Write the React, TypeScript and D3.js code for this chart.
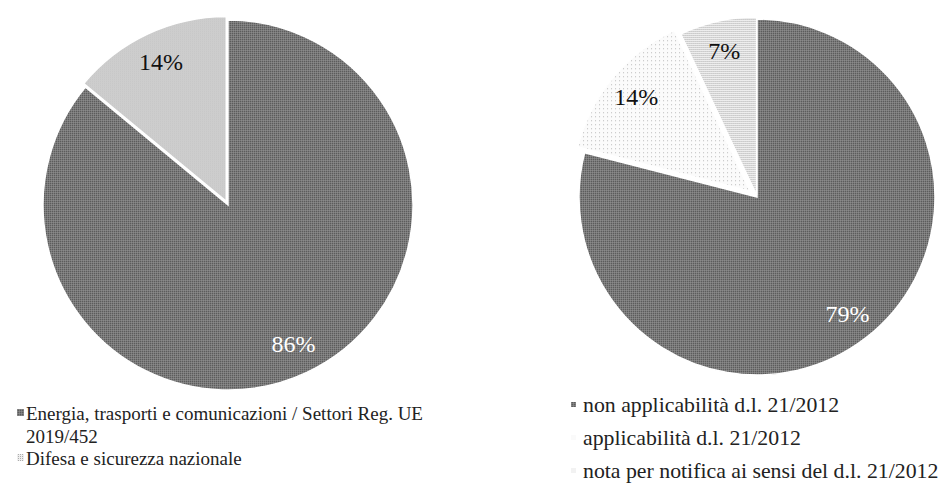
import React from 'react';
import * as d3 from 'd3';

// Left pie
const leftValues = [86, 14];
const leftLegend = [
  ['Energia, trasporti e comunicazioni / Settori Reg. UE', '2019/452'],
  ['Difesa e sicurezza nazionale'],
];
// Right pie
const rightValues = [79, 14, 7];
const rightLegend = [
  ['non applicabilità d.l. 21/2012'],
  ['applicabilità d.l. 21/2012'],
  ['nota per notifica ai sensi del d.l. 21/2012'],
];

const FONT = "'Liberation Serif', 'DejaVu Serif', serif";

type PieSpec = {
  values: number[];
  cx: number;
  cy: number;
  r: number;
  fills: string[];
  labelColors: string[];
  explode: number[];
};

function Pie({ values, cx, cy, r, fills, labelColors, explode }: PieSpec) {
  const total = d3.sum(values);
  const arcs = d3.pie<number>().sort(null).value((d) => d)(values);
  const arc = d3.arc<d3.PieArcDatum<number>>().innerRadius(0).outerRadius(r);
  const lab = d3.arc<d3.PieArcDatum<number>>().innerRadius(r * 0.83).outerRadius(r * 0.83);
  return (
    <g transform={`translate(${cx},${cy})`}>
      {arcs.map((a, i) => {
        const mid = (a.startAngle + a.endAngle) / 2;
        const dx = Math.sin(mid) * explode[i];
        const dy = -Math.cos(mid) * explode[i];
        const [lx, ly] = lab.centroid(a);
        return (
          <g key={i} transform={`translate(${dx},${dy})`}>
            <path d={arc(a) || ''} fill={fills[i]} stroke="#fff" strokeWidth={1.5} />
            <text
              x={lx}
              y={ly}
              textAnchor="middle"
              dominantBaseline="central"
              fontFamily={FONT}
              fontSize={24}
              fill={labelColors[i]}
            >
              {Math.round((values[i] / total) * 100)}%
            </text>
          </g>
        );
      })}
    </g>
  );
}

export default function App() {
  return (
    <svg
      width={945}
      height={488}
      style={{ position: 'absolute', left: 0, top: 0, background: '#fff' }}
    >
      <defs>
        <pattern id="dotsLight" width="4" height="4" patternUnits="userSpaceOnUse">
          <rect width="4" height="4" fill="#fbfbfb" />
          <rect x="1" y="1" width="1" height="1" fill="#b8b8b8" />
        </pattern>
        <pattern id="dotsMid" width="2" height="2" patternUnits="userSpaceOnUse">
          <rect width="2" height="2" fill="#eeeeee" />
          <rect x="0" y="0" width="1" height="1" fill="#acacac" />
        </pattern>
        <pattern id="lightGrain" width="2" height="2" patternUnits="userSpaceOnUse">
          <rect width="2" height="2" fill="#d8d8d8" />
          <rect x="0" y="0" width="1" height="1" fill="#b8b8b8" />
          <rect x="1" y="1" width="1" height="1" fill="#c8c8c8" />
        </pattern>
        <pattern id="darkGrain" width="2" height="2" patternUnits="userSpaceOnUse">
          <rect width="2" height="2" fill="#7a7a7a" />
          <rect x="0" y="0" width="1" height="1" fill="#5c5c5c" />
          <rect x="1" y="1" width="1" height="1" fill="#8a8a8a" />
        </pattern>
      </defs>

      <Pie
        values={leftValues}
        cx={228}
        cy={205}
        r={185}
        fills={['url(#darkGrain)', 'url(#lightGrain)']}
        labelColors={['#ffffff', '#111111']}
        explode={[0, 4]}
      />
      <Pie
        values={rightValues}
        cx={757}
        cy={197}
        r={178}
        fills={['url(#darkGrain)', 'url(#dotsLight)', 'url(#dotsMid)']}
        labelColors={['#ffffff', '#111111', '#111111']}
        explode={[0, 9, 2]}
      />

      {/* Left legend */}
      <g fontFamily={FONT} fontSize={19} fill="#222">
        {(() => {
          const ys = [413, 458];
          return leftLegend.map((lines, i) => (
            <g key={i}>
              <rect
                x={17}
                y={ys[i] - 4}
                width={7}
                height={7}
                fill={i === 0 ? 'url(#darkGrain)' : 'url(#dotsMid)'}
              />
              {lines.map((t, j) => (
                <text key={j} x={26} y={ys[i] + j * 23} dominantBaseline="central">
                  {t}
                </text>
              ))}
            </g>
          ));
        })()}
      </g>

      {/* Right legend */}
      <g fontFamily={FONT} fontSize={21.8} fill="#222">
        {rightLegend.map((lines, i) => {
          const y = 405 + i * 33;
          return (
            <g key={i}>
              <rect
                x={571}
                y={y - 3}
                width={5}
                height={5}
                fill={['url(#darkGrain)', '#fafafa', '#f2f2f2'][i]}
              />
              <text x={583} y={y} dominantBaseline="central">
                {lines[0]}
              </text>
            </g>
          );
        })}
      </g>
    </svg>
  );
}
